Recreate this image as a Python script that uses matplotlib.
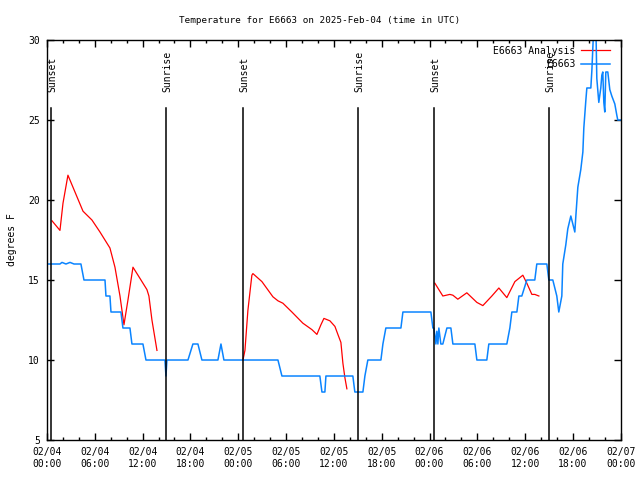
import numpy as np
import matplotlib
matplotlib.use("Agg")
import matplotlib.pyplot as plt
from matplotlib.ticker import MultipleLocator

# hours since 2025-02-04 00:00 UTC
obs_h = [0.0, 1.63, 1.88, 2.38, 2.89, 3.39, 4.26, 4.64, 7.28, 7.40, 7.90, 8.03, 9.28, 9.53,
         10.41, 10.66, 12.04, 12.42, 14.80, 14.93, 15.05, 17.69, 18.31, 18.94, 19.44, 21.45,
         21.83, 22.20, 28.98, 29.48, 34.24, 34.50, 34.87, 35.00, 38.38, 38.63, 39.64, 39.89,
         40.26, 41.90, 42.15, 42.52, 44.41, 44.66, 48.17, 48.42, 48.55, 48.80, 48.92, 49.05,
         49.17, 49.42, 49.67, 50.18, 50.68, 50.93, 53.69, 53.94, 55.19, 55.44, 57.70, 58.08,
         58.33, 58.96, 59.21, 59.58, 60.21, 61.21, 61.46, 62.72, 62.97, 63.47, 63.97, 64.22,
         64.60, 64.72, 65.10, 65.35, 65.73, 65.98, 66.23, 66.36, 66.61, 66.98, 67.24, 67.36,
         67.61, 67.74, 68.24, 68.37, 68.62, 68.87, 68.99, 69.24, 69.49, 69.62, 69.74, 69.87,
         69.99, 70.12, 70.37, 70.62, 70.87, 71.25, 71.50, 71.62, 72.0]
obs_t = [16, 16, 16.1, 16, 16.1, 16, 16, 15, 15, 14, 14, 13, 13, 12,
         12, 11, 11, 10, 10, 9, 10, 10, 11, 11, 10, 10,
         11, 10, 10, 9, 9, 8, 8, 9, 9, 8, 8, 9,
         10, 10, 11, 12, 12, 13, 13, 12, 12, 11, 11.8, 11,
         12, 11, 11, 12, 12, 11, 11, 10, 10, 11, 11, 12,
         13, 13, 14, 14, 15, 15, 16, 16, 15, 15, 14, 13,
         14, 16, 17.2, 18.2, 19, 18.5, 18, 19, 20.8, 21.9, 23, 24.5,
         26.2, 27, 27, 28.1, 31, 31, 27.6, 26.1, 27, 27.8, 28, 26.1,
         25.5, 28, 28, 26.9, 26.5, 26, 25.3, 25, 25]

ana_h = [0.63, 1.63, 2.01, 2.63, 3.26, 4.52, 5.64, 6.65, 7.90, 8.53, 9.16, 9.66, 10.16,
         10.79, 11.67, 12.54, 12.79, 13.17, 13.80, np.nan,
         24.59, 24.84, 25.21, 25.71, 25.84, 26.97, 28.35, 28.98, 29.60, 30.73, 32.11, 33.24,
         33.87, 34.37, 34.75, 35.50, 36.13, 36.50, 36.88, 37.13, 37.38, 37.63, np.nan,
         48.67, 49.67, 50.55, 50.93, 51.55, 52.68, 53.94, 54.69, 55.82, 56.70, 57.70, 58.71,
         59.71, 60.21, 60.84, 61.21, 61.72]
ana_t = [18.7, 18.1, 19.8, 21.55, 20.8, 19.3, 18.75, 18.0, 17.0, 15.8, 14.0, 12.2, 13.75,
         15.8, 15.1, 14.4, 14.0, 12.5, 10.6, np.nan,
         10.0, 10.6, 13.1, 15.3, 15.4, 14.9, 13.95, 13.7, 13.55, 13.0, 12.3, 11.9,
         11.6, 12.2, 12.6, 12.45, 12.1, 11.6, 11.1, 9.8, 8.9, 8.2, np.nan,
         14.8, 14.0, 14.1, 14.05, 13.8, 14.2, 13.6, 13.4, 14.0, 14.5, 13.9, 14.9,
         15.3, 14.8, 14.1, 14.1, 14.0]

sun_h = [0.50, 14.93, 24.59, 39.01, 48.55, 62.97]
sun_lbl = ["Sunset", "Sunrise", "Sunset", "Sunrise", "Sunset", "Sunrise"]

tick_h = [0, 6, 12, 18, 24, 30, 36, 42, 48, 54, 60, 66, 72]
tick_lbl = ["02/04\n00:00", "02/04\n06:00", "02/04\n12:00", "02/04\n18:00",
            "02/05\n00:00", "02/05\n06:00", "02/05\n12:00", "02/05\n18:00",
            "02/06\n00:00", "02/06\n06:00", "02/06\n12:00", "02/06\n18:00",
            "02/07\n00:00"]

plt.rcParams['font.family'] = 'DejaVu Sans Mono'
plt.rcParams['font.size'] = 7

fig = plt.figure(figsize=(6.4, 4.8), dpi=100)
ax = fig.add_axes([0.0734, 0.0833, 0.8966, 0.8334])

ax.plot(ana_h, ana_t, color='#ff0000', lw=0.9, label="E6663 Analysis")
ax.plot(obs_h, obs_t, color='#0a84ff', lw=1.1, label="E6663")

for h, lbl in zip(sun_h, sun_lbl):
    ax.plot([h, h], [5, 25.75], color='black', lw=1.1)
    ax.text(h + 0.2, 26.75, lbl, rotation=90, ha='center', va='bottom', fontsize=7)

ax.set_xlim(0, 72)
ax.set_ylim(5, 30)
ax.set_xticks(tick_h)
ax.set_xticklabels(tick_lbl, linespacing=1.3)
ax.xaxis.set_minor_locator(MultipleLocator(2))
ax.set_yticks([5, 10, 15, 20, 25, 30])
ax.tick_params(which='both', direction='in', top=True, right=True, width=1)
ax.tick_params(which='major', length=5, pad=5)
ax.tick_params(which='minor', length=2.5)
for s in ax.spines.values():
    s.set_linewidth(1)

ax.set_ylabel("degrees F", labelpad=8)
ax.set_title("Temperature for E6663 on 2025-Feb-04 (time in UTC)", fontsize=6.7, pad=12,
             x=0.4756)

leg = ax.legend(loc='upper right', bbox_to_anchor=(1.0, 1.0125), markerfirst=False,
                frameon=False, fontsize=7, handlelength=3, handletextpad=0.6,
                labelspacing=0.35, borderaxespad=0.5, borderpad=0.6)
leg.set_zorder(1)

fig.savefig("out.png", dpi=100)
